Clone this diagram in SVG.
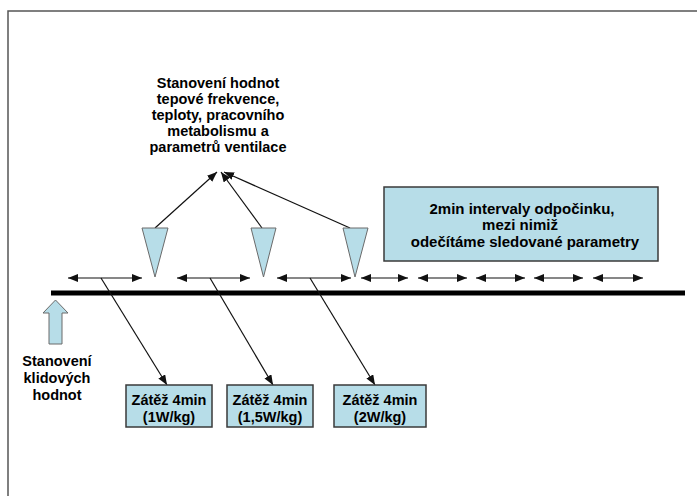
<svg xmlns="http://www.w3.org/2000/svg" width="697" height="496" viewBox="0 0 697 496">
<style>
.t{font-family:"Liberation Sans",Arial,sans-serif;font-weight:bold;font-size:14.5px;fill:#000;text-anchor:middle}
.box{fill:#B7DDE8;stroke:#3a3a3a;stroke-width:1.5}
.tri{fill:#B7DDE8;stroke:#6a6a6a;stroke-width:1}
.dbl{stroke:#111;stroke-width:1.2;fill:none;marker-start:url(#ah);marker-end:url(#ah)}
.arr{stroke:#111;stroke-width:1.2;fill:none;marker-end:url(#ah)}
</style>
<defs>
<marker id="ah" markerUnits="userSpaceOnUse" markerWidth="11" markerHeight="9" refX="10" refY="4" orient="auto-start-reverse">
<path d="M0,0 L10,4 L0,8 z" fill="#111"/>
</marker>
</defs>
<rect width="697" height="496" fill="#fff"/>
<path d="M8,496 V11 H697" fill="none" stroke="#555" stroke-width="1.5"/>

<g id="timeline">
<line x1="51" y1="293" x2="685" y2="293" stroke="#000" stroke-width="5"/>
</g>

<g id="connectors">
<line class="dbl" x1="68" y1="278" x2="142" y2="278"/>
<line class="dbl" x1="177" y1="278" x2="250" y2="278"/>
<line class="dbl" x1="277" y1="278" x2="351" y2="278"/>
<line class="dbl" x1="361" y1="278" x2="408" y2="278"/>
<line class="dbl" x1="418" y1="278" x2="467" y2="278"/>
<line class="dbl" x1="476" y1="278" x2="525" y2="278"/>
<line class="dbl" x1="534" y1="278" x2="583" y2="278"/>
<line class="dbl" x1="593" y1="278" x2="643" y2="278"/>
<line class="arr" x1="101" y1="278" x2="167" y2="385"/>
<line class="arr" x1="210" y1="278" x2="273" y2="385"/>
<line class="arr" x1="310" y1="278" x2="375" y2="385"/>
<line class="arr" x1="155" y1="228" x2="217" y2="172"/>
<line class="arr" x1="262" y1="228" x2="221" y2="172"/>
<line class="arr" x1="350" y1="228" x2="224" y2="172"/>
</g>

<g id="tri1"><polygon class="tri" points="142,228 168,228 155,277"/></g>
<g id="tri2"><polygon class="tri" points="251,228 276,228 263.5,277"/></g>
<g id="tri3"><polygon class="tri" points="343,228 368,228 355,277"/></g>

<g id="top-text">
<text class="t" x="218" y="88">Stanovení hodnot</text>
<text class="t" x="218" y="104">tepové frekvence,</text>
<text class="t" x="218" y="120">teploty, pracovního</text>
<text class="t" x="218" y="136">metabolismu a</text>
<text class="t" x="218" y="152">parametrů ventilace</text>
</g>

<g id="rest-box">
<rect class="box" x="384" y="187" width="274" height="74"/>
<text class="t" x="522" y="214" style="font-size:15px">2min intervaly odpočinku,</text>
<text class="t" x="520" y="230" style="font-size:15px">mezi nimiž</text>
<text class="t" x="525" y="247" style="font-size:15px">odečítáme sledované parametry</text>
</g>

<g id="rest-arrow">
<polygon class="tri" points="55.5,300 68,313 62,313 62,344 49,344 49,313 43,313"/>
<text class="t" x="57" y="366">Stanovení</text>
<text class="t" x="57" y="383">klidových</text>
<text class="t" x="57" y="400">hodnot</text>
</g>

<g id="load1">
<rect class="box" x="126" y="385" width="86" height="42"/>
<text class="t" x="169" y="405">Zátěž 4min</text>
<text class="t" x="169" y="422">(1W/kg)</text>
</g>
<g id="load2">
<rect class="box" x="227" y="385" width="86" height="42"/>
<text class="t" x="270" y="405">Zátěž 4min</text>
<text class="t" x="270" y="422">(1,5W/kg)</text>
</g>
<g id="load3">
<rect class="box" x="334" y="385" width="92" height="42"/>
<text class="t" x="380" y="405">Zátěž 4min</text>
<text class="t" x="380" y="422">(2W/kg)</text>
</g>
</svg>
